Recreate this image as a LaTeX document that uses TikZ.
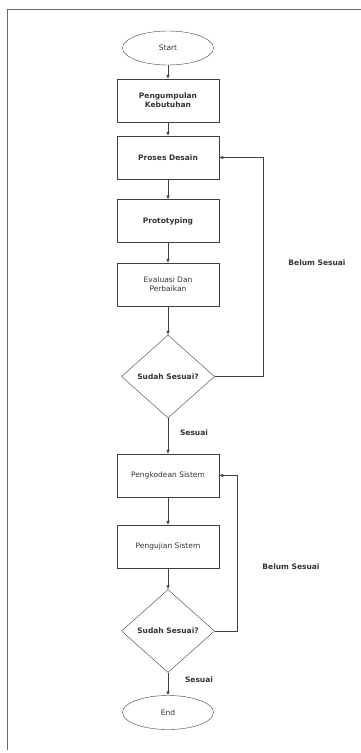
\documentclass[tikz,border=0pt]{standalone}
\usepackage{fontspec}
\setmainfont{DejaVu Sans}
\usetikzlibrary{shapes.geometric,arrows.meta}
\tikzset{
  proses/.style={draw=black!75,rectangle,minimum width=102pt,minimum height=43pt,align=center,font=\fontsize{7.5}{9}\selectfont,text=black!80},
  terminal/.style={draw=black!75,ellipse,minimum width=91pt,minimum height=34pt,inner sep=0pt,font=\fontsize{7.5}{9}\selectfont,text=black!80},
  keputusan/.style={draw=black!75,diamond,minimum width=93pt,minimum height=83pt,inner sep=0pt,font=\fontsize{7.5}{9}\selectfont,text=black!80},
  ket/.style={font=\fontsize{7.5}{9}\selectfont,text=black!80},
  alur/.style={draw=black!75,-{Latex[length=4pt,width=3.5pt]}}
}
\begin{document}
\begin{tikzpicture}[x=1pt,y=-1pt]
\useasboundingbox (0,0) rectangle (360,753);
\draw[black!60] (7,750)--(7,9)--(362,9);

\node[terminal] (start) at (168,48) {Start};
\node[proses] (kebutuhan) at (168,100.5) {\bfseries Pengumpulan\\\bfseries Kebutuhan};
\node[proses] (desain) at (168,157.5) {\bfseries Proses Desain};
\node[proses] (proto) at (168,221) {\bfseries Prototyping};
\node[proses] (evaluasi) at (168,284.5) {Evaluasi Dan\\Perbaikan};
\node[keputusan] (cek1) at (168,376.5) {\bfseries Sudah Sesuai?};
\node[proses] (kode) at (168,475.5) {Pengkodean Sistem};
\node[proses] (uji) at (168,546.5) {Pengujian Sistem};
\node[keputusan] (cek2) at (168,631) {\bfseries Sudah Sesuai?};
\node[terminal] (end) at (168,712.5) {End};

\draw[alur] (start)--(kebutuhan);
\draw[alur] (kebutuhan)--(desain);
\draw[alur] (desain)--(proto);
\draw[alur] (proto)--(evaluasi);
\draw[alur] (evaluasi)--(cek1);
\draw[alur] (cek1)--(kode);
\draw[alur] (kode)--(uji);
\draw[alur] (uji)--(cek2);
\draw[alur] (cek2)--(end);

\coordinate (b1) at (263,376.5);
\coordinate (b2) at (237,631);
\draw[alur] (cek1.east)--(b1)|-(desain.east);
\draw[alur] (cek2.east)--(b2)|-(kode.east);

\node[ket] (belum1) at (317,263) {\bfseries Belum Sesuai};
\node[ket] (sesuai1) at (194,433) {\bfseries Sesuai};
\node[ket] (belum2) at (291,567) {\bfseries Belum Sesuai};
\node[ket] (sesuai2) at (199,680) {\bfseries Sesuai};
\end{tikzpicture}
\end{document}
